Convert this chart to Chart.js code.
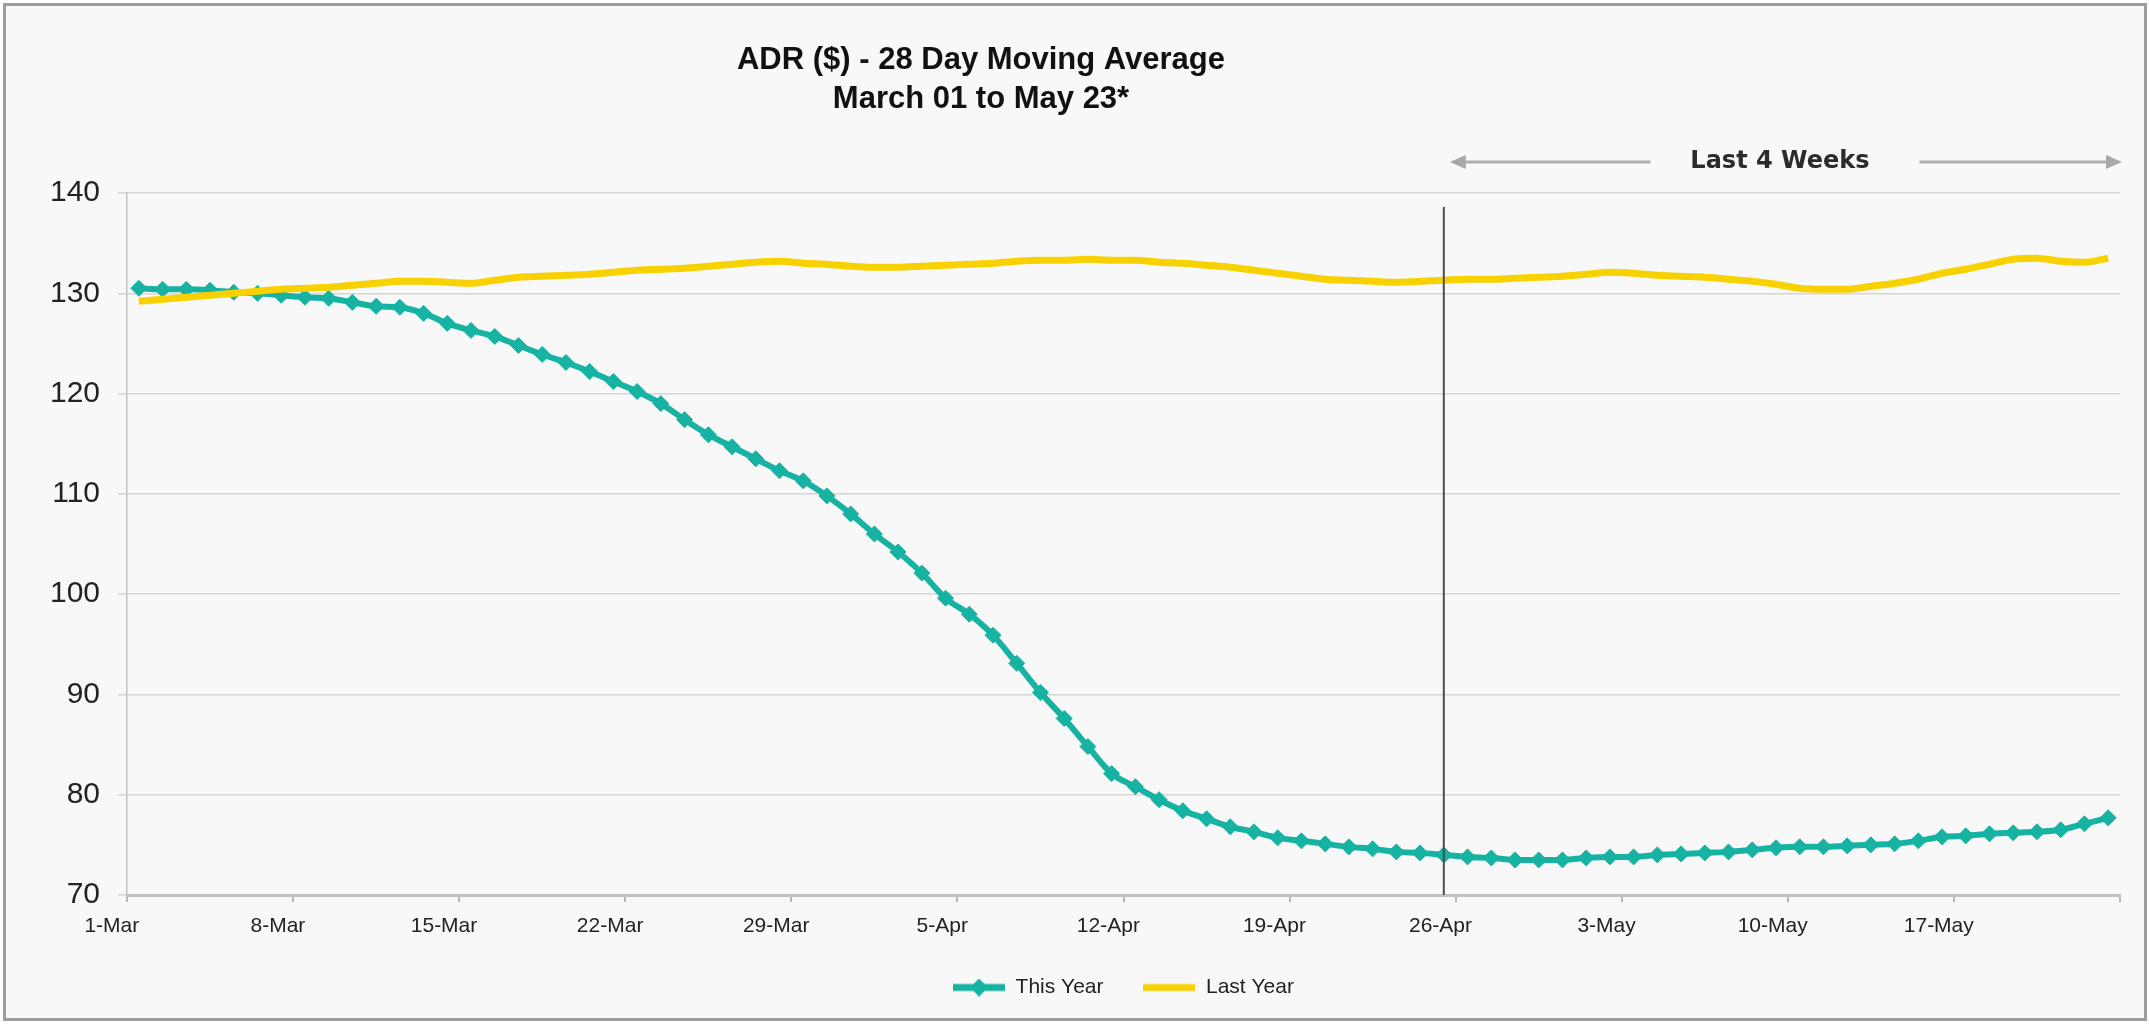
<!DOCTYPE html>
<html>
<head>
<meta charset="utf-8">
<title>ADR ($) - 28 Day Moving Average</title>
<script src="https://cdn.jsdelivr.net/npm/chart.js@4.4.1/dist/chart.umd.min.js"></script>
<style>
  html, body { margin: 0; padding: 0; background: #fff; }
  #frame { position: absolute; left: 3px; top: 3px; width: 2144px; height: 1018px; box-sizing: border-box; border: 3px solid #9d9d9d; background: #f8f8f8; }
  #wrap { position: absolute; left: 0; top: 0; width: 2138px; height: 1012px; }
</style>
</head>
<body>
<div id="frame"><div id="wrap"><canvas id="adr"></canvas></div></div>
<script>
const days = [
    '1-Mar', '2-Mar', '3-Mar', '4-Mar', '5-Mar', '6-Mar', '7-Mar', '8-Mar', '9-Mar', '10-Mar', '11-Mar', '12-Mar', '13-Mar', '14-Mar', '15-Mar', '16-Mar',
    '17-Mar', '18-Mar', '19-Mar', '20-Mar', '21-Mar', '22-Mar', '23-Mar', '24-Mar', '25-Mar', '26-Mar', '27-Mar', '28-Mar', '29-Mar', '30-Mar', '31-Mar',
    '1-Apr', '2-Apr', '3-Apr', '4-Apr', '5-Apr', '6-Apr', '7-Apr', '8-Apr', '9-Apr', '10-Apr', '11-Apr', '12-Apr', '13-Apr', '14-Apr', '15-Apr',
    '16-Apr', '17-Apr', '18-Apr', '19-Apr', '20-Apr', '21-Apr', '22-Apr', '23-Apr', '24-Apr', '25-Apr', '26-Apr', '27-Apr', '28-Apr', '29-Apr', '30-Apr',
    '1-May', '2-May', '3-May', '4-May', '5-May', '6-May', '7-May', '8-May', '9-May', '10-May', '11-May', '12-May', '13-May', '14-May', '15-May',
    '16-May', '17-May', '18-May', '19-May', '20-May', '21-May', '22-May', '23-May'
];

const thisYear = [
    130.5, 130.4, 130.4, 130.3, 130.1, 130.0, 129.8, 129.6, 129.5, 129.1,
    128.7, 128.6, 128.0, 127.0, 126.3, 125.7, 124.8, 123.9, 123.1, 122.2,
    121.2, 120.2, 119.0, 117.4, 115.9, 114.7, 113.5, 112.3, 111.3, 109.8,
    108.0, 106.0, 104.2, 102.1, 99.6, 98.0, 95.9, 93.1, 90.2, 87.6,
    84.8, 82.1, 80.8, 79.5, 78.4, 77.6, 76.8, 76.3, 75.7, 75.4,
    75.1, 74.8, 74.6, 74.3, 74.2, 74.0, 73.8, 73.7, 73.5, 73.5,
    73.5, 73.7, 73.8, 73.8, 74.0, 74.1, 74.2, 74.3, 74.5, 74.7,
    74.8, 74.8, 74.9, 75.0, 75.1, 75.4, 75.8, 75.9, 76.1, 76.2,
    76.3, 76.5, 77.1, 77.7
];

const lastYear = [
    129.2, 129.4, 129.6, 129.8, 130.0, 130.2, 130.4, 130.5, 130.6, 130.8,
    131.0, 131.2, 131.2, 131.1, 131.0, 131.3, 131.6, 131.7, 131.8, 131.9,
    132.1, 132.3, 132.4, 132.5, 132.7, 132.9, 133.1, 133.2, 133.0, 132.9,
    132.7, 132.6, 132.6, 132.7, 132.8, 132.9, 133.0, 133.2, 133.3, 133.3,
    133.4, 133.3, 133.3, 133.1, 133.0, 132.8, 132.6, 132.3, 132.0, 131.7,
    131.4, 131.3, 131.2, 131.1, 131.2, 131.3, 131.4, 131.4, 131.5, 131.6,
    131.7, 131.9, 132.1, 132.0, 131.8, 131.7, 131.6, 131.4, 131.2, 130.9,
    130.5, 130.4, 130.4, 130.7, 131.0, 131.4, 132.0, 132.4, 132.9, 133.4,
    133.5, 133.2, 133.1, 133.5
];

const titleLines = ['ADR ($) - 28 Day Moving Average', 'March 01 to May 23*'];
const periodLabel = 'Last 4 Weeks';
const periodStart = '25-Apr';
const labelEvery = 7;

const teal = '#16b2a2';
const yellow = '#f8d200';
const fontFamily = '"Liberation Sans", Arial, sans-serif';
Chart.defaults.font.family = fontFamily;

function legendIcon(color, diamond) {
    const c = document.createElement('canvas');
    c.width = 52;
    c.height = 18;
    const g = c.getContext('2d');
    g.strokeStyle = color;
    g.lineWidth = 7;
    g.beginPath();
    g.moveTo(0, 9);
    g.lineTo(52, 9);
    g.stroke();
    if (diamond) {
        g.fillStyle = color;
        g.beginPath();
        g.moveTo(17, 9);
        g.lineTo(26, 0);
        g.lineTo(35, 9);
        g.lineTo(26, 18);
        g.closePath();
        g.fill();
    }
    return c;
}
const legendIcons = [legendIcon(teal, true), legendIcon(yellow, false)];

function drawArrowHead(ctx, x, y, dir) {
    ctx.beginPath();
    ctx.moveTo(x, y);
    ctx.lineTo(x - dir * 16, y - 7);
    ctx.lineTo(x - dir * 16, y + 7);
    ctx.closePath();
    ctx.fill();
}

// title, the "last 4 weeks" marker line and its arrows
const overlay = {
    id: 'overlay',
    afterDatasetsDraw(chart) {
        const { ctx, chartArea: a, scales: { x } } = chart;
        const vx = x.getPixelForValue(days.indexOf(periodStart));
        ctx.save();
        ctx.strokeStyle = '#4d4d4d';
        ctx.lineWidth = 2;
        ctx.beginPath();
        ctx.moveTo(vx, a.top + 14);
        ctx.lineTo(vx, a.bottom);
        ctx.stroke();
        ctx.restore();
    },
    afterDraw(chart) {
        const { ctx, chartArea: a, scales: { x } } = chart;
        ctx.save();
        ctx.fillStyle = '#111';
        ctx.textAlign = 'center';
        ctx.textBaseline = 'middle';
        ctx.font = 'bold 31px ' + fontFamily;
        const tx = a.left + (a.right - a.left) * 0.4285;
        ctx.fillText(titleLines[0], tx, a.top - 133);
        ctx.fillText(titleLines[1], tx, a.top - 94);

        const vx = x.getPixelForValue(days.indexOf(periodStart));
        const ay = a.top - 31;
        const lx = vx + 6;
        const rx = a.right + 2;
        const mid = (lx + rx) / 2;
        ctx.font = 'bold 24px "DejaVu Sans", sans-serif';
        ctx.fillStyle = '#2b2b2b';
        ctx.fillText(periodLabel, mid - 6, ay);
        const tw = ctx.measureText(periodLabel).width;
        ctx.strokeStyle = '#b0b0b0';
        ctx.fillStyle = '#a8a8a8';
        ctx.lineWidth = 3;
        ctx.beginPath();
        ctx.moveTo(lx + 12, ay);
        ctx.lineTo(mid - tw / 2 - 46, ay);
        ctx.moveTo(mid + tw / 2 + 44, ay);
        ctx.lineTo(rx - 12, ay);
        ctx.stroke();
        drawArrowHead(ctx, lx, ay, -1);
        drawArrowHead(ctx, rx, ay, 1);
        ctx.restore();
    }
};

new Chart(document.getElementById('adr'), {
    type: 'line',
    data: {
        labels: days,
        datasets: [
            {
                label: 'This Year',
                data: thisYear,
                borderColor: teal,
                backgroundColor: teal,
                borderWidth: 6,
                pointStyle: 'rectRot',
                pointRadius: 8,
                pointBorderWidth: 1,
                pointBackgroundColor: teal,
                pointBorderColor: teal,
                cubicInterpolationMode: 'monotone',
                order: 2
            },
            {
                label: 'Last Year',
                data: lastYear,
                borderColor: yellow,
                backgroundColor: yellow,
                borderWidth: 7,
                pointRadius: 0,
                cubicInterpolationMode: 'monotone',
                order: 1
            }
        ]
    },
    options: {
        responsive: true,
        maintainAspectRatio: false,
        animation: false,
        layout: { padding: { top: 187, right: 24, bottom: 10, left: 0 } },
        plugins: {
            title: { display: false },
            tooltip: { enabled: false },
            legend: {
                position: 'bottom',
                fullSize: false,
                labels: {
                    usePointStyle: true,
                    pointStyleWidth: 52,
                    padding: 40,
                    color: '#222',
                    font: { size: 21 },
                    sort: (a, b) => a.datasetIndex - b.datasetIndex,
                    generateLabels(chart) {
                        const items = Chart.defaults.plugins.legend.labels.generateLabels(chart);
                        items.forEach(it => { it.pointStyle = legendIcons[it.datasetIndex]; });
                        return items;
                    }
                }
            }
        },
        scales: {
            x: {
                offset: true,
                grid: {
                    offset: true,
                    drawOnChartArea: false,
                    drawTicks: true,
                    tickLength: 7,
                    lineWidth: 2,
                    color: ctx => (ctx.index === undefined || ctx.index % labelEvery === 0) ? '#b9b9b9' : 'rgba(0,0,0,0)'
                },
                border: { display: true, color: '#c2c2c2', width: 3 },
                ticks: {
                    autoSkip: false,
                    maxRotation: 0,
                    minRotation: 0,
                    labelOffset: -27,
                    padding: 12,
                    color: '#222',
                    font: { size: 21 },
                    callback: (v, i) => i % labelEvery === 0 ? days[i] : ''
                },
                afterFit: s => { s.height = 42; }
            },
            y: {
                min: 70,
                max: 140,
                ticks: { stepSize: 10, padding: 18, color: '#222', font: { size: 30 } },
                grid: { color: '#d5d5d5', lineWidth: 1.5, tickLength: 9, drawTicks: true },
                border: { color: '#c3c3c3', width: 1.5 },
                afterFit: s => { s.width = 121; }
            }
        }
    },
    plugins: [overlay]
});
</script>
</body>
</html>
